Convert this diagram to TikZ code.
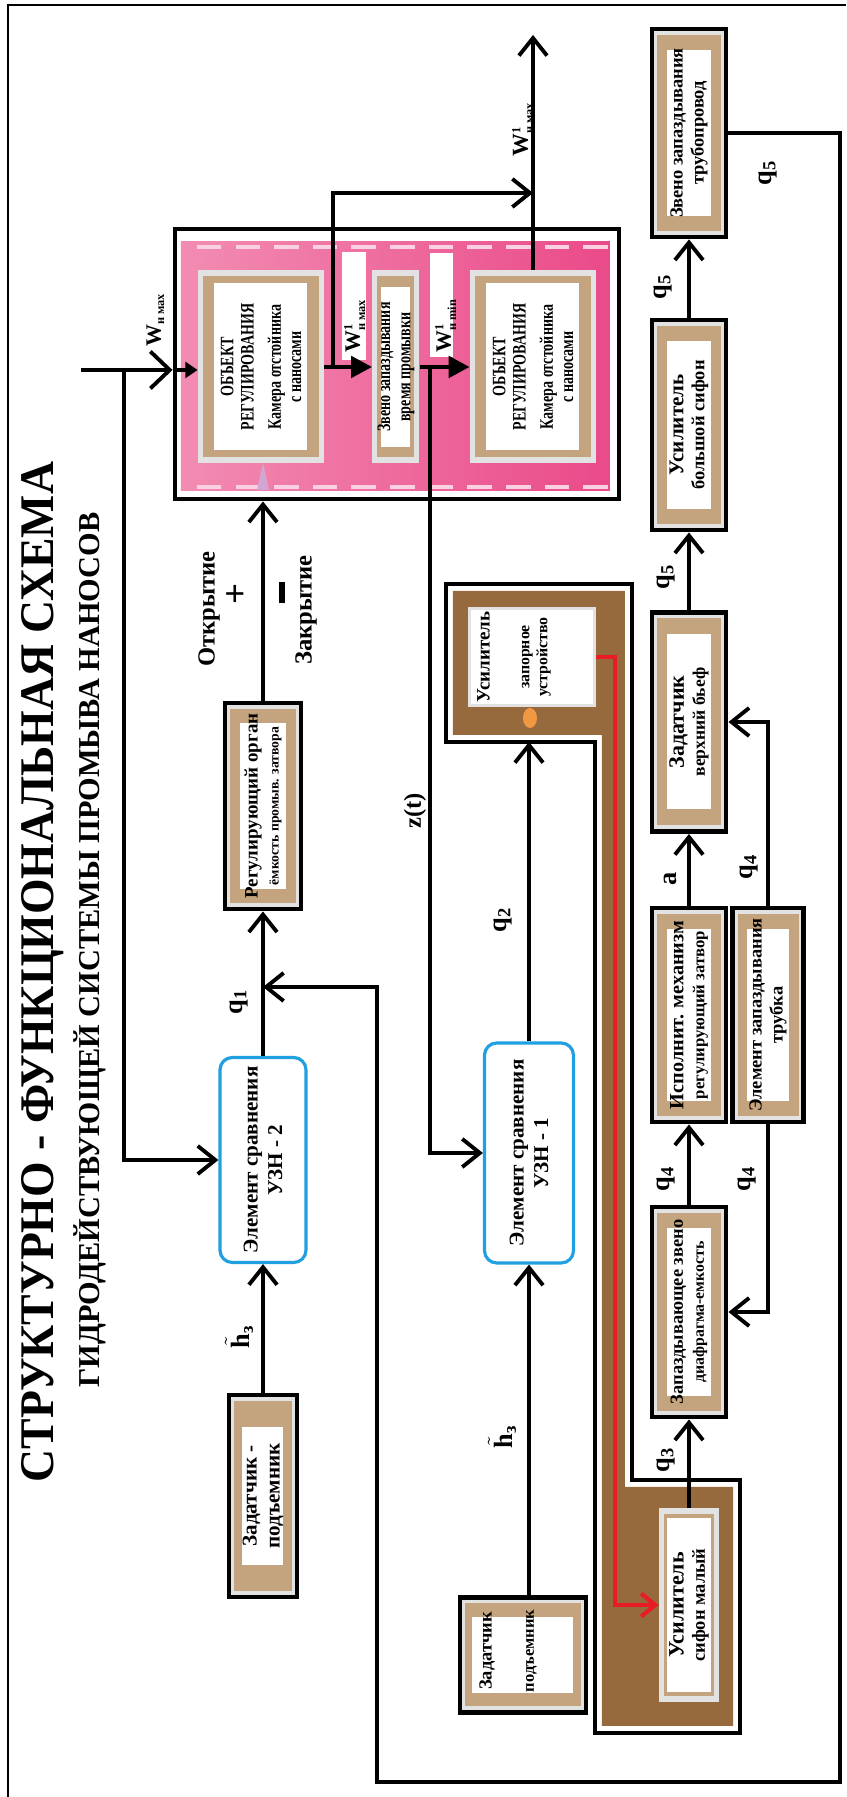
\documentclass[tikz,border=0pt]{standalone}
\usepackage{fontspec}
\setmainfont{Liberation Serif}
\usepackage{amsmath}
\usepackage{graphicx}
\usetikzlibrary{arrows.meta}

\definecolor{tanc}{RGB}{196,164,126}
\definecolor{lgray}{RGB}{226,226,226}
\definecolor{brownc}{RGB}{151,106,62}
\definecolor{pinkd}{RGB}{234,74,137}
\definecolor{pinkl}{RGB}{242,140,178}
\definecolor{bluec}{RGB}{32,160,224}
\definecolor{redc}{RGB}{232,28,36}

\tikzset{
  ln/.style={line width=2.2pt},
  arr/.style={ln, -{Straight Barb[length=10pt,width=16pt]}},
  thk/.style={line width=2.8pt, -{Triangle[length=12pt,width=12pt]}},
  blk/.style={draw, line width=2.8pt, fill=lgray, inner sep=0pt},
  lbox/.style={fill=lgray, inner sep=0pt},
  tanpad/.style={fill=tanc, inner sep=0pt},
  wpad/.style={fill=white, inner sep=0pt},
  txt/.style={align=center, inner sep=0pt, font=\bfseries\fontsize{10.5}{12}\selectfont},
  tpk/.style={txt, xscale=0.74, font=\bfseries\fontsize{10.8}{11.5}\selectfont},
  cmp/.style={draw=bluec, line width=1.8pt, rounded corners=7pt, fill=white, align=center,
    inner sep=0pt, font=\bfseries\fontsize{12}{14}\selectfont},
  lab/.style={inner sep=1pt, font=\bfseries\fontsize{15}{15}\selectfont},
  sign/.style={inner sep=1pt, font=\bfseries\fontsize{14}{14}\selectfont},
  wl/.style={anchor=base west, inner sep=0pt, font=\bfseries\fontsize{12.5}{13}\selectfont},
}

% text style, frame style, name, centre, width, height, inner width, inner height, text
\newcommand{\tbox}[9][txt]{%
  \node[#2, minimum width=#5*0.02cm, minimum height=#6*0.02cm] (#3) at (#4) {};
  \node[tanpad, minimum width=(#5-12)*0.02cm, minimum height=(#6-10)*0.02cm] at (#4) {};
  \node[wpad, minimum width=#7*0.02cm, minimum height=#8*0.02cm] at (#4) {};
  \node[#1] (#3-t) at (#4) {#9};
}
\newcommand{\wlab}[2]{W$^{\text{\fontsize{7}{7}\selectfont #1}}_{\text{\fontsize{7}{7}\selectfont #2}}$}
\newcommand{\qlab}[1]{q\textsubscript{#1}}
\newcommand{\hlab}{$\tilde{\text{h}}$\textsubscript{з}}

\begin{document}
\begin{tikzpicture}[x=0.02cm, y=0.02cm, rotate=90, transform shape]
\useasboundingbox (0,0) rectangle (1797,846);
\draw[line width=1.6pt] (0,838) -- (1792,838) -- (1792,0);

\node[anchor=base] (title) at (825,792) {\resizebox{20.4cm}{0.64cm}{\bfseries СТРУКТУРНО - ФУНКЦИОНАЛЬНАЯ СХЕМА}};
\node[anchor=base] (subtitle) at (847,746) {\resizebox{17.5cm}{!}{\bfseries ГИДРОДЕЙСТВУЮЩЕЙ СИСТЕМЫ ПРОМЫВА НАНОСОВ}};

% object of regulation
\fill[left color=pinkl, right color=pinkd] (1306,236) rectangle (1555,665);
\draw[pinkl!40!white, line width=2.5pt, dash pattern=on 14pt off 8pt] (1550,238) -- (1550,663);
\draw[pinkl!40!white, line width=2pt, dash pattern=on 14pt off 8pt] (1310,238) -- (1310,663);
\node[draw, line width=2.8pt, inner sep=0pt, minimum width=270*0.02cm, minimum height=444*0.02cm] (pinkf) at (1433,449) {};
\fill[violet!35] (1307,577) -- (1334,583) -- (1307,589) -- cycle;

\tbox[tpk]{lbox}{lobj}{1430,585}{193}{126}{167}{93}{ОБЪЕКТ\\РЕГУЛИРОВАНИЯ\\[4pt]Камера отстойника\\с наносами}
\tbox[tpk]{lbox}{rzv}{1430,450}{193}{47}{160}{29}{Звено запаздывания\\время промывки}
\tbox[tpk]{lbox}{robj}{1430,313}{193}{126}{167}{93}{ОБЪЕКТ\\РЕГУЛИРОВАНИЯ\\[4pt]Камера отстойника\\с наносами}

\node[wpad, minimum width=108*0.02cm, minimum height=24*0.02cm] (wmaxb) at (1491,492) {};
\node[wpad, minimum width=104*0.02cm, minimum height=23*0.02cm] (wminb) at (1492,404) {};
\node[wl] (wmaxl) at (1444,486) {\wlab{1}{н мах}};
\node[wl] (wminl) at (1444,395) {\wlab{1}{н min}};

% brown block
\fill[brownc] (1206,393) -- (1206,221) -- (310,221) -- (310,113) -- (71,113) -- (71,244) -- (1062,244) -- (1062,393) -- cycle;
\draw[line width=2.4pt] (1213,400) -- (1213,214) -- (317,214) -- (317,106) -- (64,106) -- (64,251) -- (1055,251) -- (1055,400) -- cycle;
\node[fill=white, draw=lgray, line width=1.5pt, inner sep=0pt, minimum width=97*0.02cm, minimum height=125*0.02cm] (uzap) at (1140,314) {};
\node[txt, font=\bfseries\fontsize{9}{10.2}\selectfont] (uzap-t) at (1140,332) {{\fontsize{10.8}{10.2}\selectfont Усилитель}\\[12.5pt]запорное\\устройство};
\fill[orange!70!brown!80] (1079,316) ellipse [x radius=10, y radius=7];
\tbox{lbox}{smsiph}{192,157}{194}{60}{174}{44}{{\fontsize{12.5}{12}\selectfont Усилитель}\\сифон малый}

% right column
\tbox{blk}{tpipe}{1664,157}{208}{74}{166}{44}{Звено запаздывания\\трубопровод}
\tbox{blk}{bsiph}{1372,157}{210}{74}{168}{44}{{\fontsize{12}{12}\selectfont Усилитель}\\большой сифон}
\tbox{blk}{zverh}{1075,157}{219}{74}{175}{44}{{\fontsize{12.5}{12}\selectfont Задатчик}\\{\fontsize{10}{12}\selectfont верхний бьеф}}
\tbox{blk}{ispol}{782,157}{214}{74}{172}{44}{{\fontsize{11.5}{12}\selectfont Исполнит. механизм}\\{\fontsize{9.5}{12}\selectfont регулирующий затвор}}
\tbox{blk}{trubka}{782,78}{214}{71}{172}{42}{Элемент запаздывания\\трубка}
\tbox{blk}{zapzv}{485,157}{210}{74}{168}{44}{Запаздывающее звено\\{\fontsize{9}{12}\selectfont диафрагма-емкость}}

% left columns
\tbox{blk}{regorg}{991,583}{206}{76}{166}{46}{{\fontsize{10.8}{12}\selectfont Регулирующий орган}\\{\fontsize{7.8}{12}\selectfont ёмкость промыв. затвора}}
\tbox[txt, font=\bfseries\fontsize{12}{13}\selectfont]{blk}{zpod1}{301,583}{202}{68}{138}{41}{Задатчик -\\подъемник}
\tbox{blk}{zpod2}{142,323}{115}{126}{76}{101}{}
\node[txt, font=\bfseries\fontsize{10.5}{24}\selectfont] (zpod2-l) at (146,338) {Задатчик\\{\fontsize{9.4}{24}\selectfont подъемник}};

\node[cmp, minimum width=205*0.02cm, minimum height=86*0.02cm] (uzn2) at (637,583) {Элемент сравнения\\УЗН - 2};
\node[cmp, minimum width=220*0.02cm, minimum height=89*0.02cm] (uzn1) at (644,317) {Элемент сравнения\\УЗН - 1};

\coordinate (lcorn) at (1055,400);
\coordinate (win) at (1427,765);
\coordinate (wsp) at (1427,722);
\coordinate (j1) at (1430,513);
\coordinate (j2) at (1430,416);
\coordinate (oj) at (1604,313);
\coordinate (wout) at (1762,313);
\coordinate (q1j) at (810,583);

\draw[arr] (zpod1.east) -- (uzn2.west);
\draw[arr] (uzn2.east) -- (regorg.west);
\draw[arr] (regorg.east) -- (regorg.east -| pinkf.west);
\draw[arr] (zpod2.east |- uzn1.west) -- (uzn1.west);
\draw[arr] (uzn1.east) -- (uzn1.east -| lcorn);
\draw[arr] (tpipe.south) |- (15,6) |- (810,469) -- (q1j);
\draw[ln] (win) -- (wsp);
\draw[arr] (wsp) -| (uzn2.north);
\draw[ln, -{Straight Barb[length=11pt,width=21pt]}] (wsp) -- (win |- pinkf.north);
\draw[line width=2.6pt, -{Triangle[length=7pt,width=9pt]}] (win |- pinkf.north) -- (win |- lobj.north);
\draw[thk] (lobj.south) -- (rzv.north);
\draw[thk] (rzv.south) -- (robj.north);
\draw[arr] (j1) -| (oj);
\draw[arr] (robj.east) -- (wout);
\draw[arr] (j2) -| (uzn1.north);

\draw[arr] (smsiph.east) -- (zapzv.west);
\draw[arr] (zapzv.east) -- (ispol.west);
\draw[arr] (ispol.east) -- (zverh.west);
\draw[arr] (zverh.east) -- (bsiph.west);
\draw[arr] (bsiph.east) -- (tpipe.west);
\draw[arr] (trubka.east) -| (zverh.south);
\draw[arr] (trubka.west) -| (zapzv.south);
\draw[redc, line width=2.4pt, -{Straight Barb[length=8pt,width=13pt]}] (uzap.south) -- ++(0,-19) -| (smsiph.north);

% labels
\node[wl] (winl) at (1450,685) {W$_{\text{\fontsize{7}{7}\selectfont н мах}}$};
\node[wl, font=\bfseries\fontsize{13}{13}\selectfont] (woutl) at (1640,318) {\wlab{1}{н мах}};
\node[lab] (q1l) at (795,607) {\qlab{1}};
\node[lab] (q2l) at (877,343) {\qlab{2}};
\node[lab] (q3l) at (337,180) {\qlab{3}};
\node[lab] (q4l) at (618,180) {\qlab{4}};
\node[lab] (al) at (918,176) {a};
\node[lab] (q5l) at (1220,180) {\qlab{5}};
\node[lab] (q5m) at (1510,183) {\qlab{5}};
\node[lab] (q4u) at (930,97) {\qlab{4}};
\node[lab] (q4d) at (618,99) {\qlab{4}};
\node[lab] (q5f) at (1624,78) {\qlab{5}};
\node[lab] (hl1) at (460,607) {\hlab};
\node[lab] (hl2) at (360,344) {\hlab};
\node[sign] (ztl) at (986,431) {z(t)};
\node[sign] (openl) at (1188,637) {Открытие};
\node[sign] (closel) at (1187,540) {Закрытие};
\node[inner sep=0pt, font=\bfseries\fontsize{21}{21}\selectfont] (plus) at (1203,609) {+};
\node[inner sep=0pt] (minus) at (1204,564) {\rule{0.42cm}{0.13cm}};
\end{tikzpicture}
\end{document}
